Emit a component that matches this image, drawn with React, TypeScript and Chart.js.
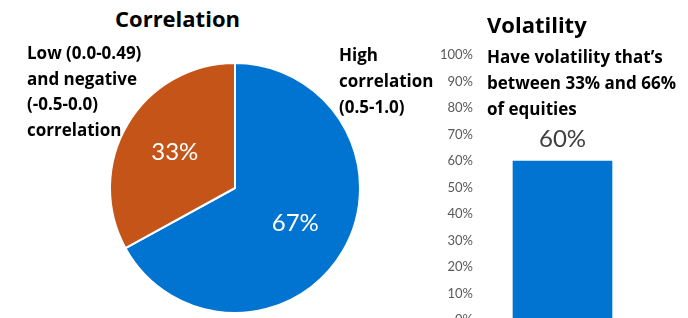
import React, { useEffect, useRef } from "react";
import { Chart, registerables } from "chart.js";

Chart.register(...registerables);

const pieLabels = ["High correlation (0.5-1.0)", "Low (0.0-0.49) and negative (-0.5-0.0) correlation"];
const pieValues = [67, 33];
const pieColors = ["#0074D0", "#C55419"];

const barCategories = ["Volatility"];
const barValues = [60];
const yTickValues = [0, 10, 20, 30, 40, 50, 60, 70, 80, 90, 100];

const FONT = "Lato, 'Open Sans', sans-serif";
const BOLD_FONT = "'Open Sans', Lato, sans-serif";

export default function App() {
  const pieRef = useRef<HTMLCanvasElement>(null);
  const barRef = useRef<HTMLCanvasElement>(null);

  useEffect(() => {
    const pieLabelPlugin = {
      id: "pieLabels",
      afterDatasetsDraw(chart: any) {
        const ctx = chart.ctx;
        const meta = chart.getDatasetMeta(0);
        ctx.save();
        ctx.fillStyle = "#ffffff";
        ctx.font = `24px ${FONT}`;
        ctx.textAlign = "center";
        ctx.textBaseline = "middle";
        meta.data.forEach((arc: any, i: number) => {
          const p = arc.getProps(["x", "y", "startAngle", "endAngle", "outerRadius"], true);
          const mid = (p.startAngle + p.endAngle) / 2;
          const r = p.outerRadius * 0.56;
          ctx.fillText(`${pieValues[i]}%`, p.x + Math.cos(mid) * r, p.y + Math.sin(mid) * r);
        });
        ctx.restore();
      },
    };

    const pie = new Chart(pieRef.current!, {
      type: "pie",
      data: {
        labels: pieLabels,
        datasets: [
          {
            data: pieValues,
            backgroundColor: pieColors,
            borderColor: "#ffffff",
            borderWidth: 2,
            hoverOffset: 0,
            offset: 0,
          },
        ],
      },
      options: {
        responsive: false,
        animation: false,
        layout: { padding: 0 },
        plugins: { legend: { display: false }, tooltip: { enabled: false } },
      },
      plugins: [pieLabelPlugin],
    });

    const barLabelPlugin = {
      id: "barLabels",
      afterDatasetsDraw(chart: any) {
        const ctx = chart.ctx;
        const meta = chart.getDatasetMeta(0);
        ctx.save();
        ctx.fillStyle = "#404040";
        ctx.font = `24px ${FONT}`;
        ctx.textAlign = "center";
        ctx.textBaseline = "middle";
        meta.data.forEach((bar: any, i: number) => {
          ctx.fillText(`${barValues[i]}%`, bar.x, bar.y - 22);
        });
        ctx.restore();
      },
    };

    const bar = new Chart(barRef.current!, {
      type: "bar",
      data: {
        labels: barCategories,
        datasets: [
          {
            data: barValues,
            backgroundColor: "#0074D0",
            barThickness: 99,
          },
        ],
      },
      options: {
        responsive: false,
        animation: false,
        layout: { padding: { top: 55, bottom: 20, left: 0, right: 39 } },
        plugins: { legend: { display: false }, tooltip: { enabled: false } },
        scales: {
          x: { display: false },
          y: {
            min: 0,
            max: 100,
            afterFit(scale: any) {
              scale.width = 46;
            },
            afterBuildTicks(scale: any) {
              scale.ticks = yTickValues.map((v) => ({ value: v }));
            },
            grid: { display: false, drawTicks: false, tickLength: 0 },
            border: { display: false },
            ticks: {
              padding: 3,
              color: "#595959",
              font: { family: FONT, size: 13 },
              callback: (v: any) => `${v}%`,
            },
          },
        },
      },
      plugins: [barLabelPlugin],
    });

    return () => {
      pie.destroy();
      bar.destroy();
    };
  }, []);

  const textBase: React.CSSProperties = {
    position: "absolute",
    fontFamily: BOLD_FONT,
    fontWeight: 700,
    color: "#000",
    whiteSpace: "nowrap",
  };

  return (
    <div
      style={{
        position: "fixed",
        left: 0,
        top: 0,
        width: 688,
        height: 318,
        overflow: "hidden",
        background: "#fff",
      }}
    >
      <canvas
        ref={pieRef}
        width={252}
        height={252}
        style={{ position: "absolute", left: 109, top: 62, width: 252, height: 252 }}
      />
      <canvas
        ref={barRef}
        width={258}
        height={340}
        style={{ position: "absolute", left: 430, top: 0, width: 258, height: 340 }}
      />
      <div style={{ ...textBase, left: 115, top: 3, fontSize: 22, lineHeight: "31px" }}>Correlation</div>
      <div style={{ ...textBase, left: 27, top: 40, fontSize: 17, lineHeight: "25.5px" }}>
        Low (0.0-0.49)
        <br />
        and negative
        <br />
        (-0.5-0.0)
        <br />
        correlation
      </div>
      <div style={{ ...textBase, left: 339, top: 42, fontSize: 17, lineHeight: "26px" }}>
        High
        <br />
        correlation
        <br />
        (0.5-1.0)
      </div>
      <div style={{ ...textBase, left: 487, top: 9, fontSize: 22, lineHeight: "31px" }}>Volatility</div>
      <div style={{ ...textBase, left: 487, top: 44, fontSize: 17, lineHeight: "26px" }}>
        Have volatility that’s
        <br />
        between 33% and 66%
        <br />
        of equities
      </div>
    </div>
  );
}
